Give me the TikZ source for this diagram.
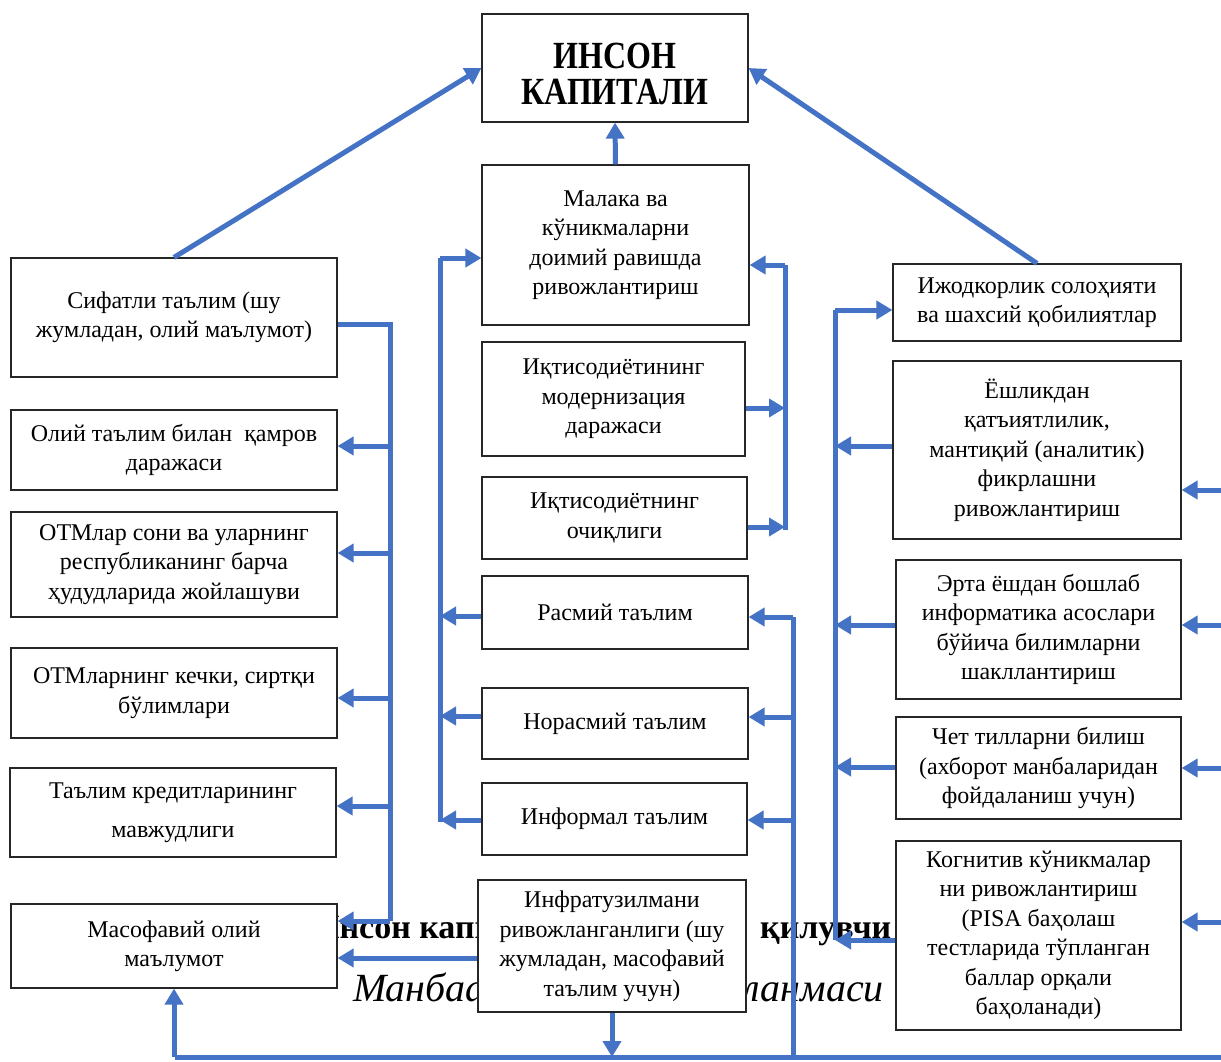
\documentclass[tikz,border=0pt]{standalone}
\usepackage{fontspec}
\setmainfont{Liberation Serif}
\usepackage{graphicx}
\usepackage{tikz}
\usetikzlibrary{positioning,arrows.meta,calc}
\definecolor{flow}  {HTML}{4472C4}
\definecolor{frame} {HTML}{262626}
\tikzset{
  % --- nodes
  box/.style     = {draw=frame, fill=white, line width=1.2pt, align=center,
                    inner sep=2pt, font=\fontsize{24}{29.5}\selectfont},
  title/.style   = {inner sep=0pt, align=center, font=\bfseries\fontsize{32}{30}\selectfont},
  captext/.style = {anchor=base west, inner sep=0pt, font=\bfseries\fontsize{34}{40}\selectfont},
  srctext/.style = {inner sep=0pt, font=\itshape\fontsize{40}{46}\selectfont},
  % --- edges
  bus/.style     = {draw=flow, line width=5pt},
  ar/.style      = {bus, -{Triangle[length=16pt,width=18pt]}},
}

\begin{document}
\begin{tikzpicture}[x=1pt,y=-1pt]
  \useasboundingbox (0,0) rectangle (1221,1061);
  \clip (0,0) rectangle (1221,1061);

  % caption lying under the boxes
  \node[captext] (captitle) at (313,938) {Инсон капиталига таъсир};
  \node[captext] (captitleb) at (760,938) {қилувчи омиллар};
  \node[srctext, anchor=base west] (capsrc) at (353,1001) {Манбаа: муаллиф};
  \node[srctext, anchor=base east] (capsrcb) at (884,1001) {ишланмаси};

  % centre column
  \node[box, minimum width=266, minimum height=108] (capital) at (615,68) {};
  \node[title] (capitaltext) at (615,79)
    {\scalebox{1}[1.2]{\begin{tabular}{@{}c@{}}ИНСОН\\КАПИТАЛИ\end{tabular}}};
  \node[box, minimum width=267, minimum height=160] (malaka) at (615.5,245)
    {Малака ва\\кўникмаларни\\доимий равишда\\ривожлантириш};
  \node[box, minimum width=263, minimum height=114] (modern) at (613.5,399)
    {Иқтисодиётининг\\модернизация\\даражаси};
  \node[box, minimum width=265, minimum height=82] (ochiq) at (614.5,518)
    {Иқтисодиётнинг\\очиқлиги};
  \node[box, minimum width=266, minimum height=73] (rasmiy) at (615,612.5)
    {Расмий таълим};
  \node[box, minimum width=266, minimum height=71] (norasmiy) at (615,723.5)
    {Норасмий таълим};
  \node[box, minimum width=265, minimum height=72] (informal) at (614.5,819)
    {Информал таълим};
  \node[box, minimum width=268, minimum height=132] (infra) at (612,946)
    {Инфратузилмани\\ривожланганлиги (шу\\жумладан, масофавий\\таълим учун)};

  % left column
  \node[box, minimum width=326, minimum height=119] (sifatli) at (174,317.5)
    {Сифатли таълим (шу\\жумладан, олий маълумот)};
  \node[box, minimum width=326, minimum height=80] (oliy) at (174,450)
    {Олий таълим билан \ қамров\\даражаси};
  \node[box, minimum width=326, minimum height=105] (otmsoni) at (174,564.5)
    {ОТМлар сони ва уларнинг\\республиканинг барча\\ҳудудларида жойлашуви};
  \node[box, minimum width=326, minimum height=90] (kechki) at (174,693)
    {ОТМларнинг кечки, сиртқи\\бўлимлари};
  \node[box, minimum width=326, minimum height=89] (kredit) at (173,812.5)
    {Таълим кредитларининг\\[10pt]мавжудлиги};
  \node[box, minimum width=326, minimum height=84] (masofaviy) at (174,946)
    {Масофавий олий\\маълумот};

  % right column
  \node[box, minimum width=288, minimum height=77] (ijod) at (1037,302.5)
    {Ижодкорлик солоҳияти\\ва шахсий қобилиятлар};
  \node[box, minimum width=288, minimum height=178] (yosh) at (1037,450)
    {Ёшликдан\\қатъиятлилик,\\мантиқий (аналитик)\\фикрлашни\\ривожлантириш};
  \node[box, minimum width=285, minimum height=139] (erta) at (1038.5,629.5)
    {Эрта ёшдан бошлаб\\информатика асослари\\бўйича билимларни\\шакллантириш};
  \node[box, minimum width=285, minimum height=102] (chet) at (1038.5,768)
    {Чет тилларни билиш\\(ахборот манбаларидан\\фойдаланиш учун)};
  \node[box, minimum width=285, minimum height=189] (kognitiv) at (1038.5,935.5)
    {Когнитив кўникмалар\\ни ривожлантириш\\(PISA баҳолаш\\тестларида тўпланган\\баллар орқали\\баҳоланади)};

  % arrows into the title box
  \draw[ar] (sifatli.north) -- (capital.west);
  \draw[ar] (ijod.north) -- (capital.east);
  \draw[ar] (malaka.north) -- (capital.south);

  % left bus
  \coordinate (lbtop) at (390,324);
  \coordinate (lbend) at (390,921);
  \draw[bus] (sifatli.east |- lbtop) -- (lbtop) -- (lbend);
  \draw[ar] (lbend) -- (masofaviy.east |- lbend);
  \foreach \n/\s in {oliy/-4,otmsoni/-11.5,kechki/5,kredit/-6.5}
    \draw[ar] ($(lbtop |- \n.east)+(0,\s)$) -- ($(\n.east)+(0,\s)$);
  \draw[ar] ($(infra.west)+(0,12)$) -- ($(masofaviy.east)+(0,12)$);

  % centre-left bus
  \coordinate (mltop) at (440,258);
  \coordinate (mlend) at (440,822);
  \draw[bus] (mlend) -- (mltop);
  \draw[ar] (mltop) -- (malaka.west |- mltop);
  \foreach \n/\s in {rasmiy/3.5,norasmiy/-7.5,informal/1}
    \draw[ar] ($(\n.west)+(0,\s)$) -- ($(mltop |- \n.west)+(0,\s)$);

  % centre-right bus
  \coordinate (mrtop) at (785,265);
  \coordinate (mrend) at (785,530);
  \draw[bus] (mrend) -- (mrtop);
  \draw[ar] (mrtop) -- (malaka.east |- mrtop);
  \foreach \n in {modern,ochiq}
    \draw[ar] ($(\n.east)+(0,9)$) -- ($(mrtop |- \n.east)+(0,9)$);

  % right bus
  \coordinate (rbtop) at (835,310);
  \coordinate (rbend) at (835,940);
  \draw[bus] (rbend) -- (rbtop);
  \draw[ar] (rbtop) -- (ijod.west |- rbtop);
  \foreach \n/\s in {yosh/-4,erta/-4.5,chet/-1,kognitiv/4.5}
    \draw[ar] ($(\n.west)+(0,\s)$) -- ($(rbtop |- \n.west)+(0,\s)$);

  % bottom bus
  \coordinate (bl) at (175,1057);
  \coordinate (br) at (1245,1057);
  \coordinate (mb) at (793,617);
  \draw[bus] (bl) -- (br);
  \draw[ar] (masofaviy.south |- bl) -- (masofaviy.south);
  \draw[ar] (infra.south) -- (infra.south |- bl);
  \draw[bus] (mb |- bl) -- (mb);
  \foreach \n/\s in {rasmiy/4.5,norasmiy/-6.5,informal/1}
    \draw[ar] ($(mb |- \n.east)+(0,\s)$) -- ($(\n.east)+(0,\s)$);

  % outer bus beyond the right edge
  \draw[bus] (br) -- ($(br |- yosh.east)+(0,40)$);
  \foreach \n/\s in {yosh/40,erta/-4.5,chet/0,kognitiv/-13.5}
    \draw[ar] ($(br |- \n.east)+(0,\s)$) -- ($(\n.east)+(0,\s)$);
\end{tikzpicture}
\end{document}
